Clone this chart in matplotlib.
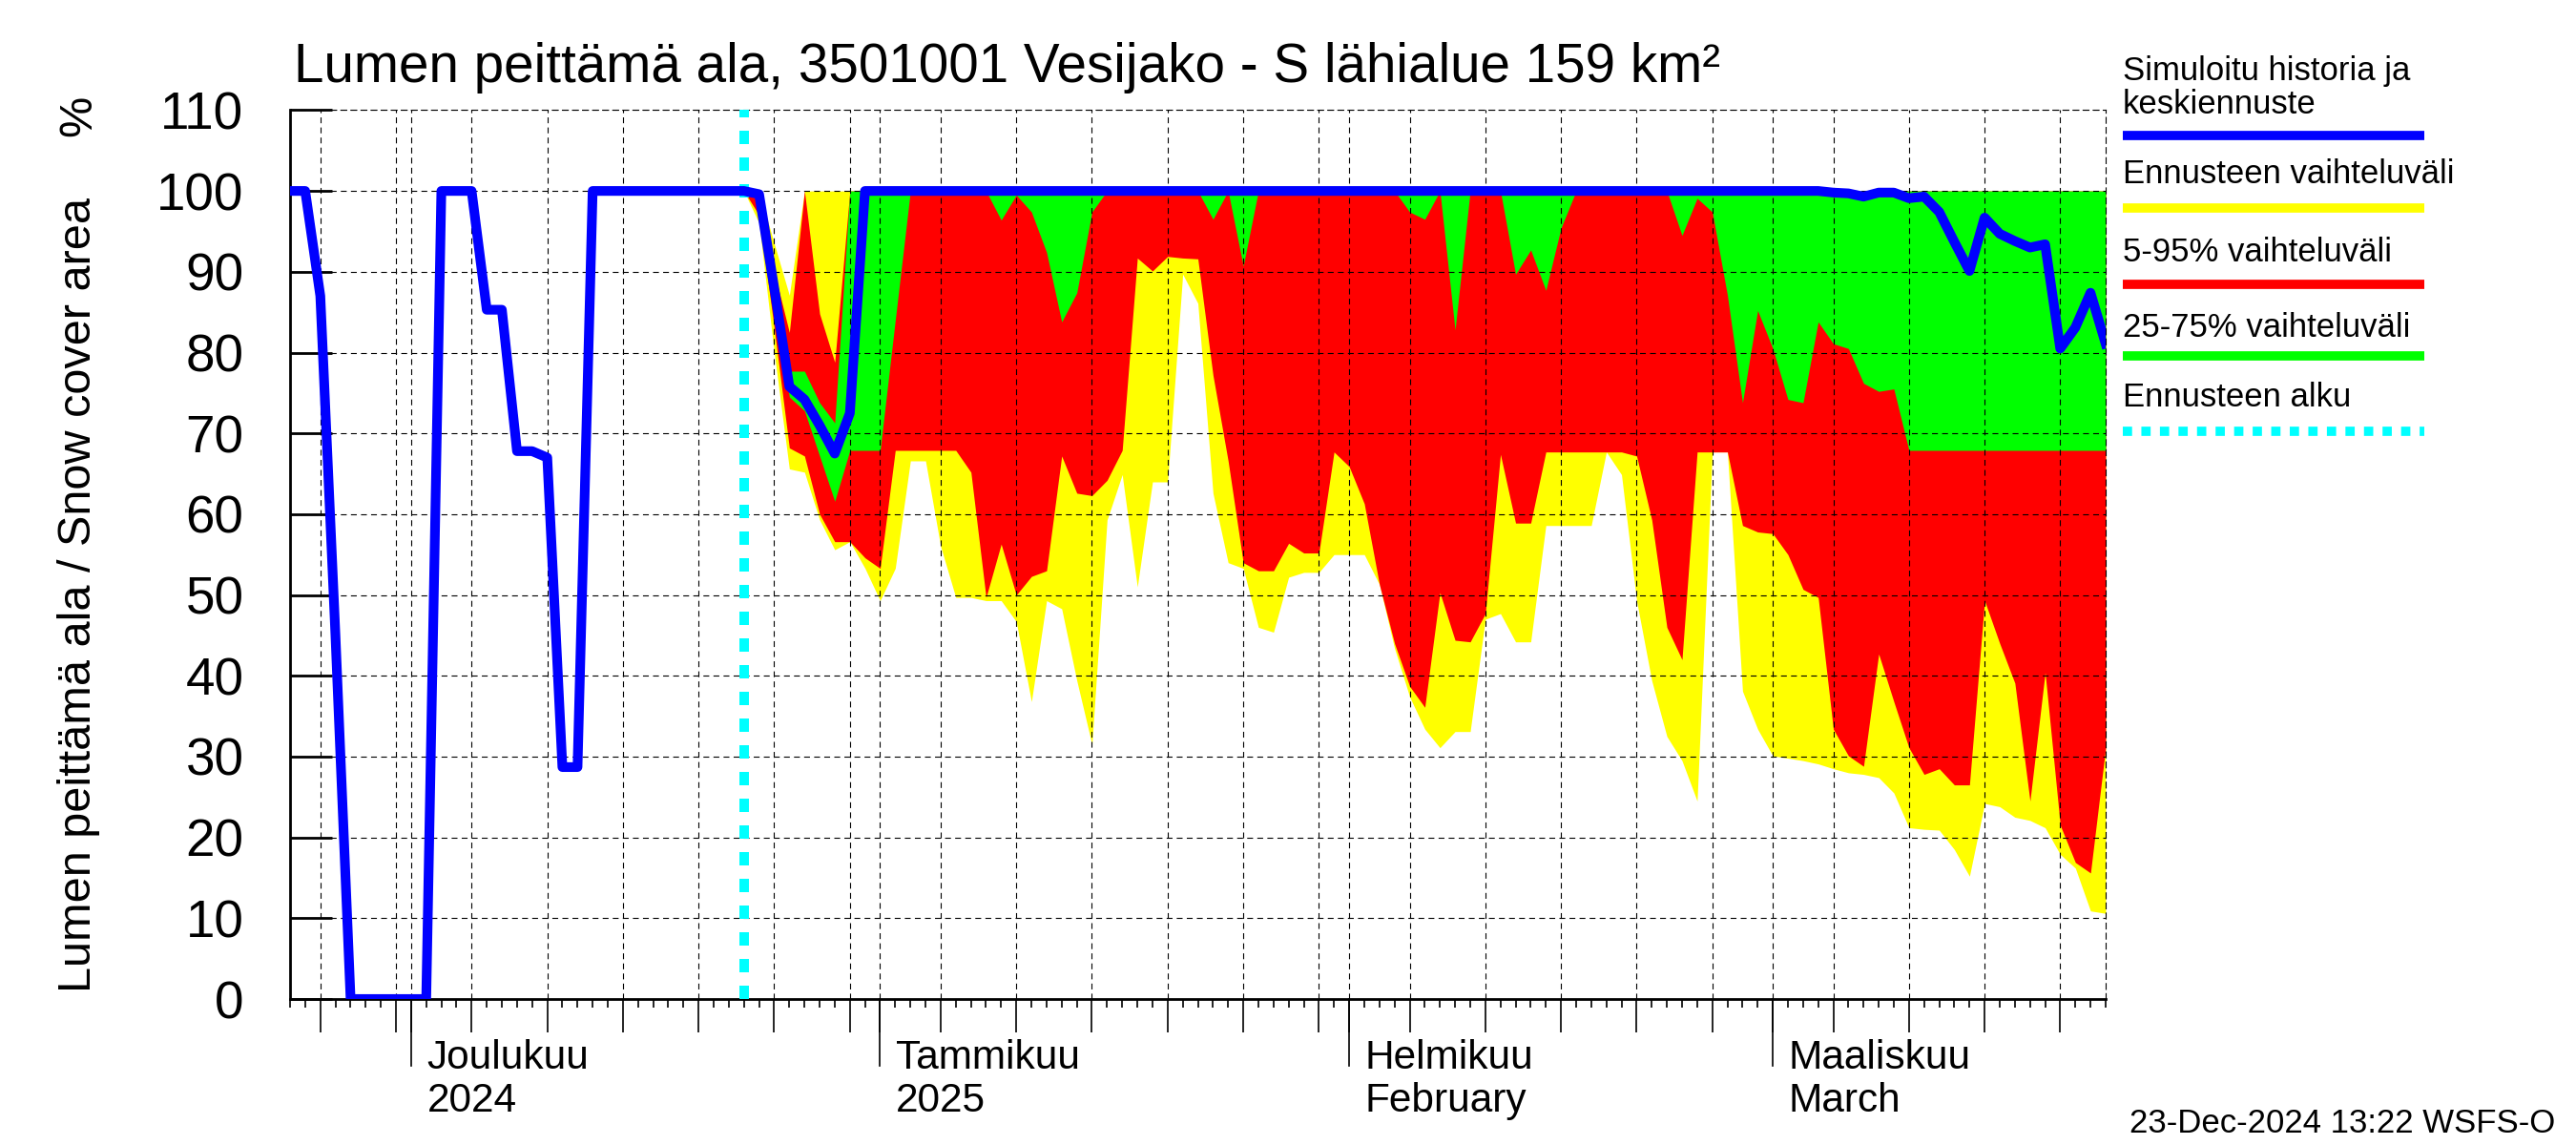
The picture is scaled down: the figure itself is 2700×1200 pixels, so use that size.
import numpy as np
import pandas as pd
import matplotlib
matplotlib.use('Agg')
import matplotlib.pyplot as plt
import matplotlib.dates as mdates
from matplotlib import transforms, lines

plt.rcParams['font.family'] = ['Liberation Sans', 'DejaVu Sans']

# simulated history, daily from 23.11.2024 to 23.12.2024
hist_start = '2024-11-23'
hist_cover = [100, 100, 87, 45, 0, 0, 0, 0, 0, 0,
              100, 100, 100, 85.3, 85.3, 67.8, 67.8, 67.0, 28.7, 28.7,
              100, 100, 100, 100, 100, 100, 100, 100, 100, 100, 100]

# forecast, daily from 23.12.2024 to 23.3.2025
fc_start = '2024-12-23'
fc_median = [100, 99.6, 88, 75.8, 74.2, 71.0, 67.5, 72.5, 100, 100,
             100, 100, 100, 100, 100, 100, 100, 100, 100, 100,
             100, 100, 100, 100, 100, 100, 100, 100, 100, 100,
             100, 100, 100, 100, 100, 100, 100, 100, 100, 100,
             100, 100, 100, 100, 100, 100, 100, 100, 100, 100,
             100, 100, 100, 100, 100, 100, 100, 100, 100, 100,
             100, 100, 100, 100, 100, 100, 100, 100, 100, 100,
             100, 100, 99.8, 99.7, 99.3, 99.8, 99.8, 99.1, 99.3, 97.4,
             93.7, 90.1, 96.7, 94.7, 93.8, 93.0, 93.4, 80.5, 83.1, 87.4,
             81.1]
fc_max = [100, 100, 93.5, 87.1, 100, 100, 100, 100, 100, 100,
          100, 100, 100, 100, 100, 100, 100, 100, 100, 100,
          100, 100, 100, 100, 100, 100, 100, 100, 100, 100,
          100, 100, 100, 100, 100, 100, 100, 100, 100, 100,
          100, 100, 100, 100, 100, 100, 100, 100, 100, 100,
          100, 100, 100, 100, 100, 100, 100, 100, 100, 100,
          100, 100, 100, 100, 100, 100, 100, 100, 100, 100,
          100, 100, 100, 100, 100, 100, 100, 100, 100, 100,
          100, 100, 100, 100, 100, 100, 100, 100, 100, 100,
          100]
fc_p95 = [100, 99, 90, 82.5, 100, 84.8, 78.8, 100, 100, 100,
          100, 100, 100, 100, 100, 100, 100, 100, 100, 100,
          100, 100, 100, 100, 100, 100, 100, 100, 100, 100,
          100, 100, 100, 100, 100, 100, 100, 100, 100, 100,
          100, 100, 100, 100, 100, 100, 100, 100, 100, 100,
          100, 100, 100, 100, 100, 100, 100, 100, 100, 100,
          100, 100, 100, 100, 100, 100, 100, 100, 100, 100,
          100, 100, 100, 100, 100, 100, 100, 100, 100, 100,
          100, 100, 100, 100, 100, 100, 100, 100, 100, 100,
          100]
fc_p75 = [100, 100, 89, 77.7, 77.7, 73.8, 71.3, 100, 100, 100,
          100, 100, 100, 100, 100, 100, 100, 100, 100, 100,
          100, 100, 100, 100, 100, 100, 100, 100, 100, 100,
          100, 100, 100, 100, 100, 100, 100, 100, 100, 100,
          100, 100, 100, 100, 100, 100, 100, 100, 100, 100,
          100, 100, 100, 100, 100, 100, 100, 100, 100, 100,
          100, 100, 100, 100, 100, 100, 100, 100, 100, 100,
          100, 100, 100, 100, 100, 100, 100, 100, 100, 100,
          100, 100, 100, 100, 100, 100, 100, 100, 100, 100,
          100]
fc_p25 = [100, 99, 86, 74.5, 72.8, 67.2, 61.6, 67.9, 67.9, 67.9,
          84, 100, 100, 100, 100, 100, 100, 96.4, 99.5, 97.4,
          92.4, 83.8, 87.4, 97.4, 100, 100, 100, 100, 100, 100,
          100, 96.5, 100, 90.7, 100, 100, 100, 100, 100, 100,
          100, 100, 100, 100, 97.4, 96.5, 100, 82.8, 100, 100,
          100, 89.7, 92.7, 87.7, 95.4, 100, 100, 100, 100, 100,
          100, 100, 94.5, 99.1, 97.4, 87.1, 73.8, 85.2, 80.5, 74.2,
          73.8, 83.8, 81.1, 80.5, 76.2, 75.2, 75.5, 67.9, 67.9, 67.9,
          67.9, 67.9, 67.9, 67.9, 67.9, 67.9, 67.9, 67.9, 67.9, 67.9,
          67.9]
fc_p5 = [100, 97, 83, 68.2, 67.2, 60.0, 56.6, 56.6, 54.6, 53.3,
         67.9, 67.9, 67.9, 67.9, 67.9, 65.2, 49.7, 56.3, 50.0, 52.3,
         53.0, 67.2, 62.6, 62.3, 64.2, 67.9, 91.7, 90.1, 91.9, 91.7,
         91.6, 77.2, 66.6, 54.0, 53.0, 53.0, 56.4, 55.2, 55.2, 67.7,
         65.9, 61.3, 51.3, 44.0, 38.7, 36.1, 50.3, 44.4, 44.2, 47.7,
         67.4, 58.9, 58.9, 67.7, 67.7, 67.7, 67.7, 67.7, 67.7, 67.2,
         59.3, 46.0, 42.0, 67.7, 67.7, 67.7, 58.6, 57.8, 57.6, 55.0,
         50.7, 49.7, 33.4, 30.1, 28.8, 42.7, 36.8, 31.1, 27.8, 28.5,
         26.5, 26.5, 49.3, 44.0, 39.1, 24.5, 40.4, 21.5, 16.9, 15.6,
         31.1]
fc_min = [100, 96, 80, 65.6, 65.2, 59.3, 55.6, 56.6, 53.3, 49.3,
          53.3, 66.6, 66.6, 56.0, 49.7, 49.7, 49.3, 49.3, 46.7, 36.8,
          49.3, 48.3, 39.4, 31.5, 59.3, 64.9, 51.0, 64.0, 64.0, 89.7,
          86.1, 62.6, 54.0, 53.3, 46.0, 45.4, 52.2, 52.8, 52.8, 55.0,
          55.0, 55.0, 51.3, 43.4, 37.4, 33.4, 31.1, 33.1, 33.1, 47.0,
          47.7, 44.2, 44.2, 58.6, 58.6, 58.6, 58.6, 67.7, 64.9, 49.3,
          39.4, 32.5, 29.5, 24.5, 67.7, 67.7, 38.1, 33.4, 30.1, 29.8,
          29.5, 29.1, 28.5, 28.0, 27.8, 27.4, 25.5, 21.2, 21.0, 20.9,
          18.5, 15.2, 24.2, 23.8, 22.5, 22.1, 21.2, 17.9, 16.2, 10.9,
          10.6]

x_start, x_end = '2024-11-23', '2025-03-23'
month_starts = ['2024-12-01', '2025-01-01', '2025-02-01', '2025-03-01']
month_fi = ['Joulukuu', 'Tammikuu', 'Helmikuu', 'Maaliskuu']
month_en = ['2024', '2025', 'February', 'March']

title = 'Lumen peittämä ala, 3501001 Vesijako - S lähialue 159 km²'
ylabel = 'Lumen peittämä ala / Snow cover area'
stamp = '23-Dec-2024 13:22 WSFS-O'

YELLOW, RED, GREEN, BLUE, CYAN = '#ffff00', '#ff0000', '#00ff00', '#0000ff', '#00ffff'
DASH = (0, (5.5, 4))

hist_dates = pd.date_range(hist_start, periods=len(hist_cover), freq='D')
fc_dates = pd.date_range(fc_start, periods=len(fc_median), freq='D')
line_dates = list(hist_dates) + list(fc_dates[1:])
line_vals = hist_cover + fc_median[1:]

fig = plt.figure(figsize=(27, 12), dpi=100)
ax = fig.add_axes([0.1126, 0.1275, 0.7048, 0.7763])

ax.fill_between(fc_dates, fc_min, fc_max, color=YELLOW, lw=0, zorder=1)
ax.fill_between(fc_dates, fc_p5, fc_p95, color=RED, lw=0, zorder=1.1)
ax.fill_between(fc_dates, fc_p25, fc_p75, color=GREEN, lw=0, zorder=1.2)
ax.axvline(pd.Timestamp(fc_start), color=CYAN, lw=7.2, linestyle=(0, (1.4, 1.4)), zorder=2.8)
ax.plot(line_dates, line_vals, color=BLUE, lw=7.3, zorder=3)

ax.set_xlim(pd.Timestamp(x_start), pd.Timestamp(x_end))
ax.set_ylim(0, 110)

all_days = pd.date_range(x_start, x_end, freq='D')
grid_days = [d for d in all_days if d.day in (1, 5, 10, 15, 20, 25, 30)]
ax.set_xticks(mdates.date2num(grid_days))
ax.set_xticks(mdates.date2num(all_days), minor=True)
ax.tick_params(axis='x', which='major', direction='out', length=25, width=1.2, labelbottom=False)
ax.tick_params(axis='x', which='minor', direction='out', length=6.5, width=1.2)
ax.set_yticks(range(0, 111, 10))
ax.tick_params(axis='y', direction='in', length=32, width=2, labelsize=39.5, pad=35)
ax.set_axisbelow(False)
ax.grid(True, which='major', color='black', lw=0.8, linestyle=DASH)

for s in ['top', 'right']:
    ax.spines[s].set_linestyle(DASH)
    ax.spines[s].set_linewidth(0.8)
for s in ['left', 'bottom']:
    ax.spines[s].set_linewidth(2)

# long ticks at month starts + month names
trans = transforms.blended_transform_factory(ax.transData, ax.transAxes)
trans_lbl = transforms.blended_transform_factory(ax.transData, fig.transFigure) + \
    transforms.ScaledTranslation(12 / 72, 0, fig.dpi_scale_trans)
for m, fi, en in zip(month_starts, month_fi, month_en):
    xm = mdates.date2num(pd.Timestamp(m))
    ax.plot([xm, xm], [0, -0.0751], transform=trans, color='black', lw=1.2, clip_on=False)
    ax.text(xm, 0.0667, fi, transform=trans_lbl, fontsize=30.5, va='baseline', ha='left')
    ax.text(xm, 0.0292, en, transform=trans_lbl, fontsize=30.5, va='baseline', ha='left')

fig.text(0.114, 0.928, title, fontsize=40.8, va='baseline', ha='left')
fig.text(0.0306, 0.48, ylabel, fontsize=35, rotation=90, va='center', ha='center')
fig.text(0.0306, 0.899, '%', fontsize=35, rotation=90, va='center', ha='center')
fig.text(0.992, 0.011, stamp, fontsize=25, va='baseline', ha='right')

# legend on the right
lx0, lx1 = 0.824, 0.941
leg_text = [(0.938, 'Simuloitu historia ja'), (0.909, 'keskiennuste'),
            (0.848, 'Ennusteen vaihteluväli'), (0.780, '5-95% vaihteluväli'),
            (0.714, '25-75% vaihteluväli'), (0.653, 'Ennusteen alku')]
for ty, t in leg_text:
    fig.text(lx0, ty, t, fontsize=25, va='center', ha='left')
leg_lines = [(0.882, BLUE, '-'), (0.818, YELLOW, '-'), (0.752, RED, '-'),
             (0.689, GREEN, '-'), (0.623, CYAN, (0, (1.0, 1.0)))]
for ly, c, ls in leg_lines:
    fig.add_artist(lines.Line2D([lx0, lx1], [ly, ly], transform=fig.transFigure,
                                color=c, lw=7, linestyle=ls, solid_capstyle='butt'))

fig.savefig('out.png', dpi=100)
